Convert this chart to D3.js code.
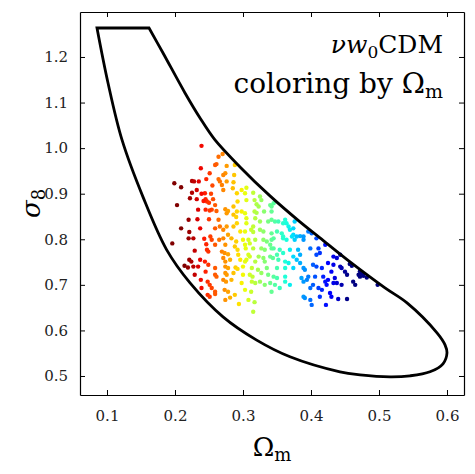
<!DOCTYPE html>
<html>
<head>
<meta charset="utf-8">
<script src="https://cdn.jsdelivr.net/npm/d3@7"></script>
<style>
body { margin: 0; background: #fff; }
#chart { width: 475px; height: 474px; }
</style>
</head>
<body>
<div id="chart"></div>
<script>
// scatter samples
const omegaM = [
  0.239,0.270,0.264,0.261,0.259,0.276,0.288,0.238,0.274,0.271,0.287,0.251,0.246,0.264,0.266,0.276,0.286,0.199,0.225,0.228,
  0.235,0.255,0.269,0.209,0.271,0.285,0.298,0.305,0.232,0.225,0.244,0.239,0.253,0.291,0.303,0.315,0.222,0.232,0.245,0.247,
  0.250,0.242,0.256,0.292,0.305,0.317,0.327,0.325,0.340,0.345,0.203,0.259,0.320,0.323,0.286,0.254,0.245,0.251,0.261,0.234,
  0.274,0.278,0.291,0.298,0.317,0.320,0.331,0.342,0.220,0.233,0.250,0.264,0.276,0.286,0.290,0.303,0.305,0.318,0.325,0.337,
  0.209,0.237,0.259,0.276,0.291,0.305,0.315,0.221,0.266,0.271,0.286,0.296,0.303,0.312,0.315,0.325,0.330,0.342,0.220,0.227,
  0.243,0.252,0.254,0.265,0.271,0.278,0.283,0.290,0.300,0.308,0.310,0.318,0.330,0.335,0.342,0.196,0.246,0.259,0.274,0.288,
  0.292,0.303,0.304,0.315,0.327,0.332,0.342,0.229,0.247,0.249,0.269,0.273,0.278,0.293,0.308,0.310,0.323,0.330,0.340,0.344,
  0.221,0.224,0.237,0.244,0.271,0.274,0.281,0.296,0.303,0.305,0.318,0.332,0.214,0.219,0.227,0.234,0.249,0.259,0.274,0.278,
  0.289,0.292,0.300,0.313,0.322,0.335,0.245,0.259,0.261,0.274,0.276,0.286,0.300,0.310,0.314,0.327,0.337,0.229,0.238,0.248,
  0.251,0.271,0.275,0.283,0.298,0.313,0.318,0.325,0.332,0.239,0.254,0.259,0.273,0.278,0.288,0.303,0.312,0.248,0.251,0.259,
  0.274,0.281,0.294,0.308,0.317,0.315,0.342,0.342,0.347,0.352,0.359,0.362,0.364,0.367,0.369,0.376,0.374,0.350,0.357,0.359,
  0.374,0.379,0.384,0.389,0.396,0.401,0.408,0.345,0.340,0.345,0.350,0.352,0.359,0.364,0.372,0.376,0.389,0.354,0.359,0.369,
  0.374,0.381,0.384,0.399,0.411,0.413,0.408,0.421,0.433,0.438,0.443,0.457,0.460,0.362,0.367,0.379,0.384,0.403,0.408,0.425,
  0.433,0.443,0.445,0.350,0.362,0.374,0.389,0.391,0.416,0.430,0.450,0.453,0.470,0.472,0.345,0.350,0.362,0.386,0.394,0.396,
  0.406,0.418,0.425,0.435,0.433,0.445,0.462,0.465,0.340,0.347,0.362,0.369,0.389,0.403,0.421,0.423,0.438,0.342,0.354,0.389,
  0.391,0.399,0.411,0.416,0.428,0.430,0.399,0.401,0.413,0.422,0.440,0.453,0.472,0.475,0.477,0.482,0.498
];
const sigma8 = [
  1.005,0.987,0.981,0.965,0.963,0.961,0.963,0.956,0.945,0.941,0.941,0.945,0.932,0.932,0.927,0.927,0.925,0.923,0.928,0.927,
  0.927,0.918,0.919,0.914,0.908,0.912,0.908,0.913,0.908,0.902,0.901,0.900,0.900,0.901,0.901,0.902,0.890,0.888,0.888,0.883,
  0.880,0.884,0.888,0.883,0.886,0.886,0.886,0.894,0.875,0.879,0.875,0.875,0.877,0.872,0.872,0.865,0.865,0.863,0.862,0.865,
  0.866,0.862,0.861,0.861,0.861,0.858,0.861,0.861,0.843,0.844,0.844,0.843,0.857,0.854,0.849,0.857,0.846,0.846,0.839,0.839,
  0.824,0.824,0.824,0.828,0.835,0.835,0.828,0.816,0.828,0.821,0.828,0.817,0.817,0.821,0.816,0.821,0.817,0.813,0.802,0.802,
  0.801,0.806,0.799,0.799,0.802,0.810,0.802,0.795,0.799,0.799,0.791,0.799,0.799,0.795,0.799,0.791,0.789,0.788,0.788,0.784,
  0.777,0.788,0.780,0.780,0.780,0.777,0.780,0.775,0.777,0.773,0.773,0.770,0.767,0.766,0.766,0.762,0.762,0.759,0.762,0.759,
  0.755,0.751,0.755,0.751,0.759,0.751,0.755,0.755,0.751,0.755,0.751,0.751,0.742,0.738,0.740,0.740,0.744,0.737,0.740,0.737,
  0.738,0.735,0.740,0.737,0.733,0.737,0.729,0.722,0.718,0.726,0.722,0.726,0.722,0.722,0.718,0.726,0.722,0.722,0.711,0.707,
  0.700,0.711,0.707,0.711,0.704,0.707,0.704,0.707,0.700,0.693,0.693,0.685,0.689,0.685,0.678,0.689,0.685,0.678,0.674,0.680,
  0.667,0.672,0.658,0.667,0.662,0.641,0.872,0.843,0.839,0.839,0.835,0.843,0.835,0.828,0.821,0.839,0.824,0.817,0.813,0.806,
  0.810,0.806,0.807,0.806,0.817,0.813,0.802,0.802,0.788,0.780,0.766,0.755,0.802,0.799,0.806,0.799,0.799,0.777,0.770,0.777,
  0.762,0.777,0.766,0.780,0.780,0.770,0.766,0.788,0.762,0.759,0.766,0.746,0.742,0.751,0.748,0.755,0.748,0.744,0.740,0.748,
  0.744,0.740,0.737,0.737,0.737,0.737,0.737,0.733,0.737,0.729,0.729,0.722,0.722,0.718,0.718,0.715,0.718,0.715,0.711,0.718,
  0.718,0.718,0.711,0.715,0.704,0.700,0.707,0.700,0.704,0.700,0.707,0.700,0.707,0.700,0.707,0.700,0.704,0.685,0.693,0.674,
  0.671,0.693,0.693,0.689,0.682,0.674,0.667,0.656,0.674,0.656,0.669,0.669,0.730,0.725,0.720,0.716,0.700
];

// prior boundary, clockwise from the top-right corner of the flat edge
const contourOmega = [0.1618,0.1824,0.2147,0.2368,0.2588,0.2956,0.3397,0.3838,0.4132,0.4574,0.5088,0.5412,0.5853,0.5971,0.6000,
  0.5941,0.5750,0.5456,0.5162,0.4721,0.4426,0.3691,0.3201,0.2706,0.2221,0.1878,0.1529,0.1221,0.1015,0.0853];
const contourSigma = [1.2636,1.2088,1.1211,1.0662,1.0180,0.9588,0.8952,0.8382,0.8031,0.7504,0.6934,0.6605,0.5947,0.5684,0.5509,
  0.5268,0.5092,0.5004,0.4982,0.5026,0.5092,0.5422,0.5788,0.6298,0.7043,0.7767,0.8930,1.0180,1.1430,1.2636];

const xTicks = [0.1, 0.2, 0.3, 0.4, 0.5, 0.6];
const yTicks = [0.5, 0.6, 0.7, 0.8, 0.9, 1.0, 1.1, 1.2];

const serif = "'DejaVu Serif', serif";

// matplotlib jet, channel by channel
function jet(t) {
  const r = d3.scaleLinear().domain([0, 0.35, 0.66, 0.89, 1]).range([0, 0, 1, 1, 0.5]).clamp(true);
  const g = d3.scaleLinear().domain([0, 0.125, 0.375, 0.64, 0.91, 1]).range([0, 0, 1, 1, 0, 0]).clamp(true);
  const b = d3.scaleLinear().domain([0, 0.11, 0.34, 0.65, 1]).range([0.5, 1, 1, 0, 0]).clamp(true);
  return d3.rgb(255 * r(t), 255 * g(t), 255 * b(t)).formatHex();
}

function drawChart(containerId) {

  const margin = {top: 12, right: 11, bottom: 79, left: 80};
  const width = 475 - margin.left - margin.right;
  const height = 474 - margin.top - margin.bottom;

  const root = d3.select(containerId).append("svg")
    .attr("width", 475)
    .attr("height", 474);

  const svg = root.append("g")
    .attr("transform", `translate(${margin.left}, ${margin.top})`);

  // scales
  const x = d3.scaleLinear().domain([0.0603, 0.625]).range([0, width]);
  const y = d3.scaleLinear().domain([0.4583, 1.2987]).range([height, 0]);
  const colorNorm = d3.scaleLinear().domain([0.215, 0.455]).range([1, 0]).clamp(true);

  // points
  const pts = omegaM.map((om, i) => ({om: om, s8: sigma8[i]}));
  svg.append("g")
    .selectAll("circle")
    .data(pts)
    .enter()
    .append("circle")
    .attr("cx", d => x(d.om))
    .attr("cy", d => y(d.s8))
    .attr("r", 2.2)
    .attr("fill", d => jet(colorNorm(d.om)));

  // contour
  const line = d3.line()
    .x(d => x(d[0]))
    .y(d => y(d[1]))
    .curve(d3.curveCatmullRom.alpha(0.5));
  const contour = contourOmega.map((om, i) => [om, contourSigma[i]]);
  svg.append("path")
    .attr("d", line(contour) + "Z")
    .attr("fill", "none")
    .attr("stroke", "#000")
    .attr("stroke-width", 2.8)
    .attr("stroke-linejoin", "miter");

  // axes, ticks inward on all sides
  const axes = [
    {ax: d3.axisBottom(x).tickValues(xTicks).tickFormat(d3.format(".1f")), t: `translate(0, ${height})`},
    {ax: d3.axisTop(x).tickValues(xTicks).tickFormat(""), t: "translate(0, 0)"},
    {ax: d3.axisLeft(y).tickValues(yTicks).tickFormat(d3.format(".1f")), t: "translate(0, 0)"},
    {ax: d3.axisRight(y).tickValues(yTicks).tickFormat(""), t: `translate(${width}, 0)`}
  ];
  axes.forEach(a => {
    const g = svg.append("g")
      .attr("transform", a.t)
      .call(a.ax.tickSizeInner(-5).tickSizeOuter(0).tickPadding(a === axes[0] ? 15 : 12));
    g.select(".domain").attr("stroke-width", 1.2);
    g.selectAll(".tick line").attr("stroke-width", 1);
    g.selectAll("text")
      .style("font-family", serif)
      .style("font-size", "15px")
      .attr("fill", "#222");
  });

  // axis labels
  const xl = root.append("text")
    .attr("x", margin.left + width / 2)
    .attr("y", 456)
    .attr("text-anchor", "middle")
    .style("font-family", serif)
    .style("font-size", "26px");
  xl.append("tspan").text("Ω");
  xl.append("tspan").attr("dy", 5).style("font-size", "18px").text("m");

  const yl = root.append("text")
    .attr("transform", `translate(40, ${margin.top + height / 2}) rotate(-90)`)
    .attr("text-anchor", "middle")
    .style("font-family", serif)
    .style("font-size", "26px");
  yl.append("tspan").style("font-style", "italic").text("σ");
  yl.append("tspan").attr("dy", 5).style("font-size", "18px").text("8");

  // annotation
  const t1 = root.append("text")
    .attr("x", 443)
    .attr("y", 53)
    .attr("text-anchor", "end")
    .style("font-family", serif)
    .style("font-size", "25px");
  t1.append("tspan").style("font-style", "italic").text("νw");
  t1.append("tspan").attr("dy", 5).style("font-size", "17px").text("0");
  t1.append("tspan").attr("dy", -5).text("CDM");

  const t2 = root.append("text")
    .attr("x", 443)
    .attr("y", 93)
    .attr("text-anchor", "end")
    .style("font-family", serif)
    .style("font-size", "28px");
  t2.append("tspan").text("coloring by Ω");
  t2.append("tspan").attr("dy", 5).style("font-size", "19px").text("m");
}

drawChart("#chart");
</script>
</body>
</html>
